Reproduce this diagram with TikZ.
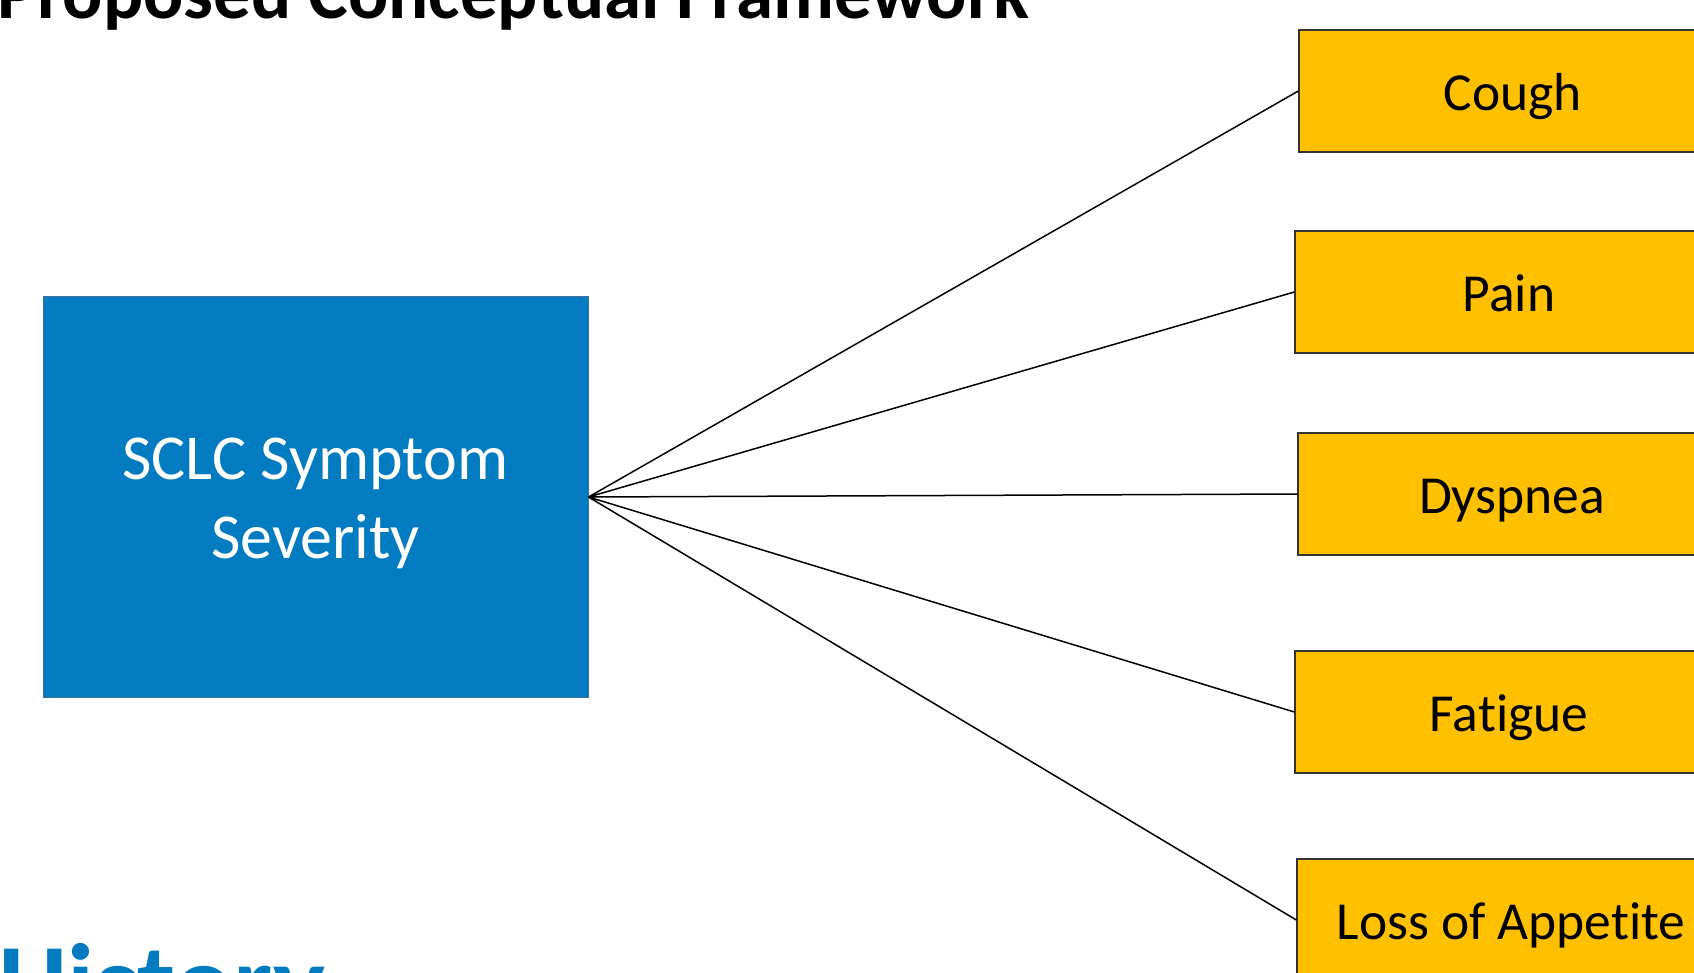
\documentclass[tikz,border=0pt]{standalone}
\usepackage{fontspec}
\setmainfont[Ligatures=NoCommon]{Carlito}
\usepackage{tikz}
\usetikzlibrary{positioning,calc}

\definecolor{sevblue}{RGB}{3,123,193}
\definecolor{sevedge}{RGB}{65,113,156}
\definecolor{symyellow}{RGB}{255,192,0}

\tikzset{
  mainbox/.style={rectangle,draw=sevedge,line width=1pt,fill=sevblue,text=white,
    minimum width=545pt,minimum height=401pt,inner sep=0pt,align=center,
    font=\fontsize{64}{79}\selectfont},
  symbox/.style={rectangle,draw=black!80,line width=1.3pt,fill=symyellow,
    minimum width=428pt,minimum height=122pt,inner sep=0pt,
    text height=38pt,text depth=0pt,font=\fontsize{53.5}{62}\selectfont},
  link/.style={draw=black,line width=1.5pt}
}

\begin{document}
\begin{tikzpicture}[x=1pt,y=-1pt]
  \useasboundingbox (0,0) rectangle (1694,972);
  \clip (0,0) rectangle (1694,972);
  \fill[white] (0,0) rectangle (1694,972);

  % slide headings, cut off by the frame
  \node[anchor=base west,inner sep=0pt,font=\fontsize{75}{80}\selectfont\bfseries] (title) at (-3,18) {Proposed Conceptual Framework};
  \node[anchor=base west,inner sep=0pt,text=sevblue,font=\fontsize{110}{120}\selectfont\bfseries] (hist) at (-2,1020) {History};

  \node[mainbox]  (sev)  at (315.5,497) {\rule{0pt}{54pt}SCLC Symptom\\Severity};
  \node[symbox]   (cough) at (1513,91)  {Cough};
  \node[symbox]   (pain)  at (1509,292) {Pain};
  \node[symbox]   (dysp)  at (1512,494) {Dyspnea};
  \node[symbox]   (fat)   at (1509,712) {Fatigue};
  \node[symbox]   (loss)  at (1511,920) {Loss of Appetite};

  \path[link] (sev.east) -- (cough.west)
              (sev.east) -- (pain.west)
              (sev.east) -- (dysp.west)
              (sev.east) -- (fat.west)
              (sev.east) -- (loss.west);
\end{tikzpicture}
\end{document}
